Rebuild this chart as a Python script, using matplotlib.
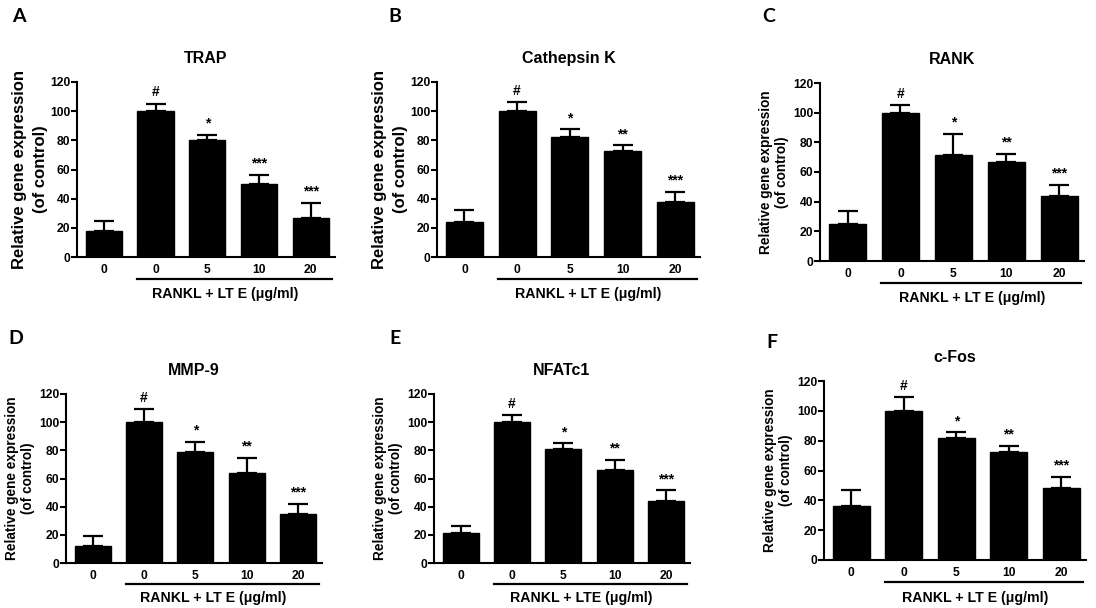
import matplotlib
matplotlib.use("Agg")
import matplotlib.pyplot as plt
import matplotlib.transforms as mtransforms

plt.rcParams['font.family'] = ['Liberation Sans', 'DejaVu Sans']
plt.rcParams['font.weight'] = 'bold'

# ---------------- data ----------------
x_labels = ["0", "0", "5", "10", "20"]
panel_letters = ["A", "B", "C", "D", "E", "F"]
genes = ["TRAP", "Cathepsin K", "RANK", "MMP-9", "NFATc1", "c-Fos"]
xlabel_texts = ["RANKL + LT E (\u03bcg/ml)", "RANKL + LT E (\u03bcg/ml)", "RANKL + LT E (\u03bcg/ml)",
                "RANKL + LT E (\u03bcg/ml)", "RANKL + LTE (\u03bcg/ml)", "RANKL + LT E (\u03bcg/ml)"]

trap_mean = [18, 100, 80, 50, 27]
trap_err = [7, 5, 4, 6.5, 10]
ctsk_mean = [24, 100, 82.5, 72.5, 38]
ctsk_err = [8.5, 6, 5, 4, 6.5]
rank_mean = [25, 100, 71.5, 67, 44]
rank_err = [8.5, 5, 14, 5, 7]
mmp9_mean = [12, 100, 79, 64, 35]
mmp9_err = [7.5, 9, 7, 10.5, 7]
nfatc1_mean = [21, 100, 81, 66, 44]
nfatc1_err = [5, 5, 4, 7, 7.5]
cfos_mean = [36, 100, 81.5, 72.5, 48.5]
cfos_err = [11, 9, 4, 4, 7]
sig_a = ["", "#", "*", "***", "***"]
sig_b = ["", "#", "*", "**", "***"]
sig_c = ["", "#", "*", "**", "***"]
sig_d = ["", "#", "*", "**", "***"]
sig_e = ["", "#", "*", "**", "***"]
sig_f = ["", "#", "*", "**", "***"]

means = [trap_mean, ctsk_mean, rank_mean, mmp9_mean, nfatc1_mean, cfos_mean]
errs = [trap_err, ctsk_err, rank_err, mmp9_err, nfatc1_err, cfos_err]
sigs = [sig_a, sig_b, sig_c, sig_d, sig_e, sig_f]

# ---------------- layout (pixels: left, right, top, bottom) ----------------
W, H = 1096, 608
boxes = [(77, 335, 82, 257), (437, 700, 82, 257), (820, 1084, 83, 261),
         (66, 322, 394, 563), (434, 690, 394, 563), (824, 1086, 381, 560)]
letter_pos = [(12, 17), (388, 17), (762, 17), (8, 338), (389, 338), (766, 343)]
ylabel_size = [12, 12, 9.8, 9.8, 9.8, 9.8]
ylabel_spacing = [1.5, 1.5, 1.25, 1.25, 1.25, 1.25]
ylabel_pad = [1.5, 1.5, 2.5, 2.5, 2.5, 2.5]

fig = plt.figure(figsize=(W / 100, H / 100), dpi=100)

for i in range(6):
    l, r, t, b = boxes[i]
    ax = fig.add_axes([l / W, 1 - b / H, (r - l) / W, (b - t) / H])
    xs = list(range(5))
    ax.bar(xs, means[i], width=0.7, color='black', edgecolor='black', zorder=2)
    ax.errorbar(xs, means[i], yerr=[[0] * 5, errs[i]], fmt='none', ecolor='black',
                elinewidth=1.6, capsize=7, capthick=1.6, zorder=3)
    for j in range(5):
        if sigs[i][j]:
            ax.text(j, means[i][j] + errs[i][j] + 3, sigs[i][j], ha='center', va='bottom',
                    fontsize=10, fontweight='bold')
    ax.set_ylim(0, 120)
    ax.set_xlim(-0.52, 4.47)
    ax.set_yticks(range(0, 121, 20))
    ax.set_xticks(xs)
    ax.set_xticklabels(x_labels)
    for sp in ['top', 'right']:
        ax.spines[sp].set_visible(False)
    for sp in ['left', 'bottom']:
        ax.spines[sp].set_linewidth(1.5)
    ax.tick_params(axis='y', direction='out', length=4, width=1.5, labelsize=8.7, pad=1)
    ax.tick_params(axis='x', length=0, labelsize=8.7, pad=5)
    for lab in ax.get_xticklabels() + ax.get_yticklabels():
        lab.set_fontweight('bold')
    ax.set_title(genes[i], fontsize=11.5, fontweight='bold', pad=14)
    ax.set_ylabel("Relative gene expression\n(of control)", fontsize=ylabel_size[i],
                  fontweight='bold', labelpad=ylabel_pad[i], linespacing=ylabel_spacing[i])
    trans = mtransforms.blended_transform_factory(ax.transData, ax.transAxes)
    ax.plot([0.64, 4.42], [-0.125, -0.125], color='black', lw=1.6, transform=trans, clip_on=False)
    ax.text(2.35, -0.21, xlabel_texts[i], transform=trans, ha='center', va='center',
            fontsize=10.2, fontweight='bold')
    lx, ly = letter_pos[i]
    fig.text(lx / W, 1 - ly / H, panel_letters[i], fontsize=14, fontweight='bold',
             family=['Lato', 'DejaVu Sans'], ha='left', va='center')

fig.savefig("out.png", dpi=100)
